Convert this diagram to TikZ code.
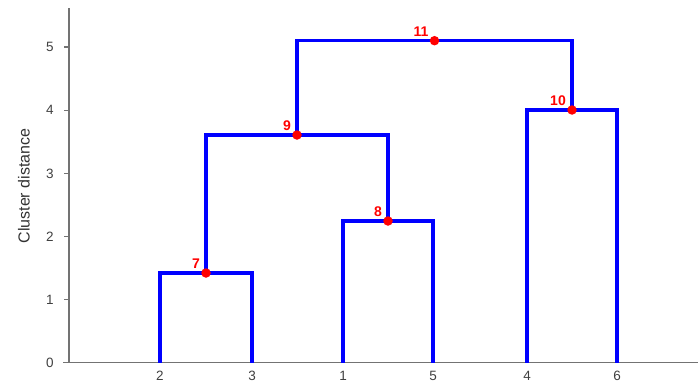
\documentclass[tikz,border=0pt]{standalone}
\usepackage{fontspec}
\setmainfont{Liberation Sans}
\begin{document}
\begin{tikzpicture}[x=1pt,y=-1pt,
  link/.style={draw=blue, line width=3.2pt, line join=miter},
  axisline/.style={draw=black!55, line width=1.5pt},
  dot/.style={circle, fill=red, inner sep=0pt, minimum size=9.5pt},
  mergelab/.style={text=red, inner sep=0pt, anchor=south east, font=\fontsize{14}{16}\selectfont\bfseries},
  ticklab/.style={text=black!75, inner sep=0pt, font=\fontsize{13.5}{15}\selectfont},
  leaflab/.style={text=black!75, inner sep=0pt, font=\fontsize{13.5}{15}\selectfont}]
\useasboundingbox (0,0) rectangle (698,383);
% axes
\coordinate (origin) at (69,362.7);
\coordinate (ytop) at (69,8);
\coordinate (xleft) at (63,362.7);
\coordinate (xright) at (698,362.7);
\draw[axisline] (xleft) -- (xright);
\draw[axisline] (origin) -- (ytop);
\foreach \k in {0,...,5}{
  \coordinate (t\k) at (69,362.7-63.1*\k);
  \draw[axisline] (t\k) -- ++(-5,0);
  \node[ticklab] at (50,362.7-63.1*\k) {\k};
}
\node[rotate=90, text=black!80, inner sep=0pt, font=\fontsize{16}{18}\selectfont] (ylab) at (24,186) {Cluster distance};
% leaves
\coordinate (l2) at (160,362.7);
\coordinate (l3) at (252,362.7);
\coordinate (l1) at (343,362.7);
\coordinate (l5) at (433,362.7);
\coordinate (l4) at (527,362.7);
\coordinate (l6) at (617,362.7);
\foreach \n in {2,3,1,5,4,6}{
  \node[leaflab] (ll\n) at ([yshift=-13pt]l\n) {\n};
}
% merge points
\coordinate (j7) at (206,273);
\coordinate (j8) at (388,221);
\coordinate (j9) at (297,135);
\coordinate (j10) at (572,110);
\coordinate (j11) at (434.5,40.7);
% links
\draw[link] (l2) |- (j7) -| (l3);
\draw[link] (l1) |- (j8) -| (l5);
\draw[link] (l4) |- (j10) -| (l6);
\draw[link] (j7) |- (j9) -| (j8);
\draw[link] (j9) |- (j11) -| (j10);
% dots and labels
\foreach \m in {7,8,9,10,11}{
  \node[dot] (d\m) at (j\m) {};
  \node[mergelab] (n\m) at ([xshift=-6pt,yshift=4.5pt]d\m.center) {\m};
}
\end{tikzpicture}
\end{document}
